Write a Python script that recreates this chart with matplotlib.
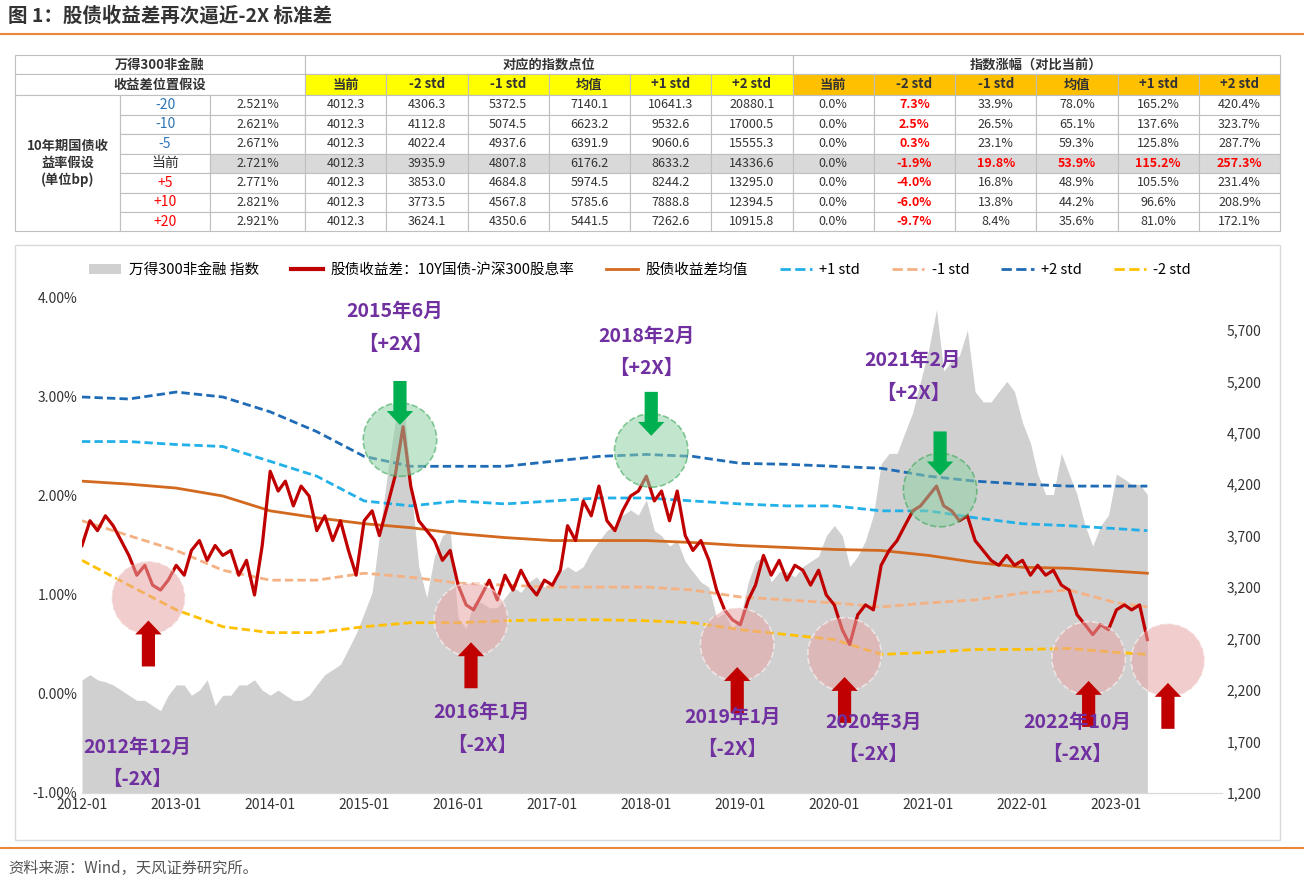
import numpy as np
import pandas as pd
import matplotlib
matplotlib.use("Agg")
import matplotlib.pyplot as plt
import matplotlib.dates as mdates
from matplotlib.patches import Rectangle, Patch
from matplotlib.lines import Line2D

plt.rcParams['font.family'] = ['Noto Sans CJK SC', 'DejaVu Sans']

# ---------------- data ----------------
bp_labels = ["-20", "-10", "-5", "当前", "+5", "+10", "+20"]
yields = ["2.521%", "2.621%", "2.671%", "2.721%", "2.771%", "2.821%", "2.921%"]
col_heads = ["当前", "-2 std", "-1 std", "均值", "+1 std", "+2 std"]
levels = [
    [4012.3, 4306.3, 5372.5, 7140.1, 10641.3, 20880.1],
    [4012.3, 4112.8, 5074.5, 6623.2, 9532.6, 17000.5],
    [4012.3, 4022.4, 4937.6, 6391.9, 9060.6, 15555.3],
    [4012.3, 3935.9, 4807.8, 6176.2, 8633.2, 14336.6],
    [4012.3, 3853.0, 4684.8, 5974.5, 8244.2, 13295.0],
    [4012.3, 3773.5, 4567.8, 5785.6, 7888.8, 12394.5],
    [4012.3, 3624.1, 4350.6, 5441.5, 7262.6, 10915.8],
]
changes = [
    [0.0, 7.3, 33.9, 78.0, 165.2, 420.4],
    [0.0, 2.5, 26.5, 65.1, 137.6, 323.7],
    [0.0, 0.3, 23.1, 59.3, 125.8, 287.7],
    [0.0, -1.9, 19.8, 53.9, 115.2, 257.3],
    [0.0, -4.0, 16.8, 48.9, 105.5, 231.4],
    [0.0, -6.0, 13.8, 44.2, 96.6, 208.9],
    [0.0, -9.7, 8.4, 35.6, 81.0, 172.1],
]

months = pd.date_range("2012-01-01", "2023-05-01", freq="MS")
spread = [
    1.50, 1.75, 1.65, 1.80, 1.70, 1.55, 1.40, 1.20, 1.30, 1.10, 1.05, 1.15,
    1.30, 1.20, 1.45, 1.55, 1.35, 1.50, 1.40, 1.45, 1.20, 1.35, 1.00, 1.50,
    2.25, 2.05, 2.15, 1.90, 2.10, 2.00, 1.65, 1.80, 1.55, 1.75, 1.45, 1.20,
    1.75, 1.85, 1.60, 1.90, 2.20, 2.70, 2.10, 1.75, 1.65, 1.55, 1.35, 1.45,
    1.10, 0.90, 0.85, 1.00, 1.15, 0.95, 1.20, 1.05, 1.25, 1.10, 1.00, 1.15,
    1.10, 1.25, 1.70, 1.55, 1.95, 1.80, 2.10, 1.75, 1.65, 1.85, 2.00, 2.05,
    2.20, 1.95, 2.05, 1.75, 2.05, 1.60, 1.45, 1.55, 1.35, 1.05, 0.85, 0.75,
    0.70, 0.95, 1.10, 1.40, 1.20, 1.35, 1.15, 1.30, 1.25, 1.10, 1.25, 1.00,
    0.90, 0.65, 0.50, 0.80, 0.90, 0.85, 1.30, 1.45, 1.55, 1.70, 1.85, 1.90,
    2.00, 2.10, 1.90, 1.85, 1.75, 1.80, 1.55, 1.45, 1.35, 1.30, 1.40, 1.30,
    1.35, 1.20, 1.30, 1.20, 1.25, 1.10, 1.05, 0.80, 0.70, 0.60, 0.70, 0.65,
    0.85, 0.90, 0.85, 0.90, 0.55,
]
index_vals = [
    2300, 2350, 2300, 2280, 2250, 2200, 2150, 2100, 2100, 2050, 2000, 2150,
    2250, 2250, 2150, 2200, 2300, 2050, 2150, 2150, 2250, 2250, 2300, 2200,
    2150, 2200, 2150, 2100, 2100, 2150, 2250, 2350, 2400, 2450, 2600, 2750,
    2950, 3150, 3700, 4300, 4800, 5100, 4200, 3400, 3100, 3500, 3700, 3750,
    2900, 2800, 3050, 3050, 3000, 3000, 3100, 3200, 3150, 3250, 3300, 3200,
    3250, 3350, 3400, 3350, 3400, 3550, 3650, 3750, 3800, 3900, 3950, 3900,
    4050, 3750, 3700, 3600, 3650, 3450, 3350, 3250, 3200, 2900, 2950, 2800,
    2900, 3250, 3450, 3500, 3250, 3350, 3350, 3300, 3400, 3450, 3500, 3700,
    3800, 3700, 3400, 3500, 3650, 3900, 4400, 4500, 4500, 4700, 4900, 5200,
    5500, 5900, 5300, 5400, 5450, 5700, 5100, 5000, 5000, 5100, 5200, 5100,
    4800, 4600, 4300, 4100, 4100, 4500, 4300, 4100, 3800, 3600, 3800, 3900,
    4300, 4250, 4200, 4200, 4100,
]

band_dates = pd.to_datetime([
    "2012-01", "2012-07", "2013-01", "2013-07", "2014-01", "2014-07", "2015-01",
    "2015-07", "2016-01", "2016-07", "2017-01", "2017-07", "2018-01", "2018-07",
    "2019-01", "2019-07", "2020-01", "2020-07", "2021-01", "2021-07", "2022-01",
    "2022-07", "2023-01", "2023-05"])
mean_band = [2.15, 2.12, 2.08, 2.00, 1.85, 1.78, 1.72, 1.68, 1.62, 1.58, 1.55, 1.55,
             1.55, 1.53, 1.50, 1.48, 1.46, 1.45, 1.40, 1.33, 1.28, 1.27, 1.24, 1.22]
p1_band = [2.55, 2.55, 2.52, 2.50, 2.35, 2.20, 1.95, 1.90, 1.95, 1.92, 1.95, 1.98,
           1.98, 1.95, 1.92, 1.90, 1.90, 1.85, 1.85, 1.78, 1.72, 1.70, 1.67, 1.65]
p2_band = [3.00, 2.98, 3.05, 3.00, 2.85, 2.65, 2.40, 2.30, 2.30, 2.30, 2.35, 2.40,
           2.42, 2.40, 2.33, 2.32, 2.30, 2.28, 2.20, 2.15, 2.12, 2.10, 2.10, 2.10]
m1_band = [1.75, 1.60, 1.45, 1.25, 1.15, 1.15, 1.22, 1.18, 1.12, 1.10, 1.08, 1.08,
           1.08, 1.05, 0.98, 0.95, 0.92, 0.88, 0.92, 0.95, 1.02, 1.05, 0.92, 0.88]
m2_band = [1.35, 1.10, 0.85, 0.68, 0.62, 0.62, 0.68, 0.72, 0.72, 0.74, 0.75, 0.75,
           0.74, 0.72, 0.65, 0.60, 0.55, 0.40, 0.42, 0.45, 0.45, 0.46, 0.42, 0.40]

# events: (date, spread level, kind, label, label pos date, label pos value)
events = [
    ("2012-09-15", 0.97, "low", "2012年12月\n【-2X】", "2012-08", -0.70),
    ("2015-05-20", 2.57, "high", "2015年6月\n【+2X】", "2015-05", 3.70),
    ("2016-02-20", 0.75, "low", "2016年1月\n【-2X】", "2016-04", -0.35),
    ("2018-01-20", 2.46, "high", "2018年2月\n【+2X】", "2018-01", 3.45),
    ("2018-12-20", 0.50, "low", "2019年1月\n【-2X】", "2018-12", -0.40),
    ("2020-02-10", 0.40, "low", "2020年3月\n【-2X】", "2020-06", -0.45),
    ("2021-02-15", 2.06, "high", "2021年2月\n【+2X】", "2020-11", 3.20),
    ("2022-09-15", 0.36, "low", "2022年10月\n【-2X】", "2022-08", -0.45),
    ("2023-07-20", 0.34, "low", "", None, None),
]
year_ticks = pd.date_range("2012-01-01", "2023-01-01", freq="YS")

# ---------------- figure ----------------
W, H = 1304, 883
fig = plt.figure(figsize=(W / 100, H / 100), dpi=100)


def fx(px):
    return px / W


def fy(py):
    return 1 - py / H


fig.text(fx(8), fy(16), "图 1：股债收益差再次逼近-2X 标准差", fontsize=14,
         fontweight="bold", color="#333333", va="center")
fig.add_artist(Line2D([0, 1], [fy(34), fy(34)], color="#E9883A", lw=1.5))
fig.add_artist(Line2D([0, 1], [fy(848), fy(848)], color="#E9883A", lw=1.5))
fig.text(fx(8), fy(868), "资料来源：Wind，天风证券研究所。", fontsize=11,
         color="#555555", va="center")

# ---------------- table ----------------
tab = fig.add_axes([0, 0, 1, 1])
tab.set_xlim(0, W)
tab.set_ylim(H, 0)
tab.axis("off")

row_y = [55, 74, 95, 114.5, 134, 153.5, 173, 192.5, 212, 231]
c0 = [15, 120, 210, 305]
cw = (1280 - 305) / 12
cols = [305 + i * cw for i in range(13)]
grid = "#BFBFBF"
fs = 9


def cell(x0, x1, y0, y1, fc="white"):
    tab.add_patch(Rectangle((x0, y0), x1 - x0, y1 - y0, fc=fc, ec=grid, lw=0.8))


def txt(x, y, s, color="#333333", bold=False, size=fs):
    tab.text(x, y, s, ha="center", va="center", fontsize=size, color=color,
             fontweight="bold" if bold else "normal")


cell(15, 305, row_y[0], row_y[1])
txt(160, (row_y[0] + row_y[1]) / 2, "万得300非金融", bold=True, size=9.5)
cell(15, 305, row_y[1], row_y[2])
txt(160, (row_y[1] + row_y[2]) / 2, "收益差位置假设", bold=True, size=9.5)
cell(cols[0], cols[6], row_y[0], row_y[1])
txt((cols[0] + cols[6]) / 2, (row_y[0] + row_y[1]) / 2, "对应的指数点位", bold=True, size=9.5)
cell(cols[6], cols[12], row_y[0], row_y[1])
txt((cols[6] + cols[12]) / 2, (row_y[0] + row_y[1]) / 2, "指数涨幅（对比当前）", bold=True, size=9.5)
for g, fc in [(0, "#FFFF00"), (6, "#FFC000")]:
    for j, h in enumerate(col_heads):
        cell(cols[g + j], cols[g + j + 1], row_y[1], row_y[2], fc)
        txt((cols[g + j] + cols[g + j + 1]) / 2, (row_y[1] + row_y[2]) / 2, h, bold=True, size=9.5)

cell(c0[0], c0[1], row_y[2], row_y[9])
txt((c0[0] + c0[1]) / 2, (row_y[2] + row_y[9]) / 2, "10年期国债收\n益率假设\n(单位bp)",
    bold=True, size=9.5)
for i in range(7):
    y0, y1 = row_y[i + 2], row_y[i + 3]
    ym = (y0 + y1) / 2
    cur = bp_labels[i] == "当前"
    bg = "#D9D9D9" if cur else "white"
    cell(c0[1], c0[2], y0, y1)
    lab_color = "#333333" if cur else ("#2E75B6" if bp_labels[i].startswith("-") else "#FF0000")
    txt((c0[1] + c0[2]) / 2, ym, bp_labels[i], color=lab_color, size=10)
    cell(c0[2], c0[3], y0, y1, bg)
    txt((c0[2] + c0[3]) / 2, ym, yields[i])
    for j in range(6):
        cell(cols[j], cols[j + 1], y0, y1, bg)
        txt((cols[j] + cols[j + 1]) / 2, ym, f"{levels[i][j]:.1f}")
    for j in range(6):
        cell(cols[6 + j], cols[7 + j], y0, y1, bg)
        red = (j == 1) or (cur and j > 0)
        txt((cols[6 + j] + cols[7 + j]) / 2, ym, f"{changes[i][j]:.1f}%",
            color="#FF0000" if red else "#333333", bold=red)

# chart frame
tab.add_patch(Rectangle((15, 245), 1265, 595, fc="none", ec="#D9D9D9", lw=1))

# ---------------- chart ----------------
ax2 = fig.add_axes([fx(82), fy(793), fx(1222 - 82), fy(298) - fy(793)])
ax = ax2.twinx()
ax2.yaxis.tick_right()
ax.yaxis.tick_left()

ax2.fill_between(months, 1200, index_vals, color="#D0D0D0", lw=0, zorder=1)
ax2.set_ylim(1200, 6010)
ax2.set_yticks(range(1200, 5701, 500))
ax2.set_yticklabels([f"{v:,}" for v in range(1200, 5701, 500)])

ax.plot(band_dates, p2_band, color="#1F6BB5", ls=(0, (3, 1.5)), lw=2, zorder=3)
ax.plot(band_dates, p1_band, color="#21B0E8", ls=(0, (3, 1.5)), lw=2, zorder=3)
ax.plot(band_dates, mean_band, color="#D2691E", lw=2, zorder=3)
ax.plot(band_dates, m1_band, color="#F4B183", ls=(0, (3, 1.5)), lw=2, zorder=3)
ax.plot(band_dates, m2_band, color="#FFC000", ls=(0, (3, 1.5)), lw=2, zorder=3)
ax.plot(months, spread, color="#C00000", lw=2.3, zorder=4)

ax.set_ylim(-1, 4)
ax.set_yticks(np.arange(-1, 4.01, 1))
ax.set_yticklabels([f"{v:.2f}%" for v in np.arange(-1, 4.01, 1)])
ax.set_xlim(pd.Timestamp("2012-01-01"), pd.Timestamp("2024-02-15"))
ax.set_xticks(year_ticks)
ax.xaxis.set_major_formatter(mdates.DateFormatter("%Y-%m"))

for a in (ax, ax2):
    for s in ["top", "right", "left"]:
        a.spines[s].set_visible(False)
    a.spines["bottom"].set_color("#D9D9D9")
    a.tick_params(length=0, labelsize=10, colors="#333333")
ax.tick_params(axis="x", pad=12)

arrow_style = "simple,head_width=1.9,head_length=1.0,tail_width=0.95"
for d, v, kind, label, ld, lv in events:
    d = pd.Timestamp(d)
    if kind == "low":
        ax.scatter([d], [v], s=2800, color="#E8A5A5", alpha=0.55, edgecolor="white",
                   linestyle="--", lw=1.2, zorder=5)
        ax.annotate("", xy=(d, v - 0.2), xytext=(d, v - 0.72),
                    arrowprops=dict(arrowstyle=arrow_style, color="#C00000", lw=0), zorder=6)
    else:
        ax.scatter([d], [v], s=2800, color="#8FD0A5", alpha=0.55, edgecolor="#2EA24E",
                   linestyle="--", lw=1.2, zorder=5)
        ax.annotate("", xy=(d, v + 0.12), xytext=(d, v + 0.62),
                    arrowprops=dict(arrowstyle=arrow_style, color="#00B050", lw=0), zorder=6)
    if label:
        ax.text(pd.Timestamp(ld), lv, label, ha="center", va="center", fontsize=14,
                fontweight="bold", color="#7030A0", linespacing=1.9, zorder=7)

handles = [
    Patch(fc="#D0D0D0", label="万得300非金融 指数"),
    Line2D([], [], color="#C00000", lw=3, label="股债收益差：10Y国债-沪深300股息率"),
    Line2D([], [], color="#D2691E", lw=2, label="股债收益差均值"),
    Line2D([], [], color="#21B0E8", lw=2, ls="--", label="+1 std"),
    Line2D([], [], color="#F4B183", lw=2, ls="--", label="-1 std"),
    Line2D([], [], color="#1F6BB5", lw=2, ls="--", label="+2 std"),
    Line2D([], [], color="#FFC000", lw=2, ls="--", label="-2 std"),
]
fig.legend(handles=handles, loc="center", bbox_to_anchor=(fx(640), fy(270)), ncol=7,
           frameon=False, fontsize=10.5, handlelength=2.2, columnspacing=2.2,
           handletextpad=0.5)

fig.savefig("out.png", dpi=100)
